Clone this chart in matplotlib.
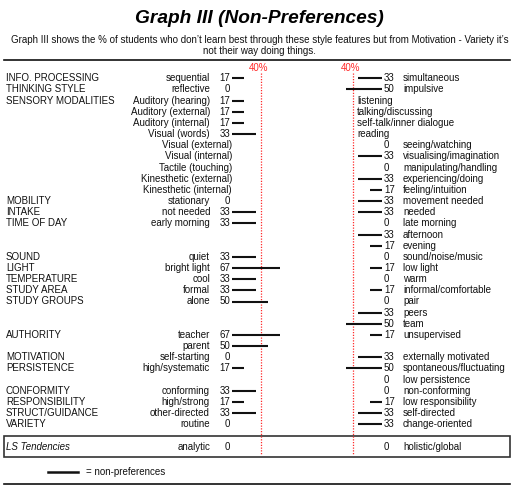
import matplotlib.pyplot as plt
from matplotlib.patches import Rectangle

plt.rcParams['font.family'] = ['Liberation Sans', 'DejaVu Sans']

# one entry per row of the chart
groups = ['INFO. PROCESSING', 'THINKING STYLE', 'SENSORY MODALITIES', '', '', '', '', '', '', '', '',
          'MOBILITY', 'INTAKE', 'TIME OF DAY', '', '', 'SOUND', 'LIGHT', 'TEMPERATURE', 'STUDY AREA',
          'STUDY GROUPS', '', '', 'AUTHORITY', '', 'MOTIVATION', 'PERSISTENCE', '', 'CONFORMITY',
          'RESPONSIBILITY', 'STRUCT/GUIDANCE', 'VARIETY']
left_labels = ['sequential', 'reflective', 'Auditory (hearing)', 'Auditory (external)', 'Auditory (internal)',
               'Visual (words)', 'Visual (external)', 'Visual (internal)', 'Tactile (touching)',
               'Kinesthetic (external)', 'Kinesthetic (internal)', 'stationary', 'not needed', 'early morning',
               '', '', 'quiet', 'bright light', 'cool', 'formal', 'alone', '', '', 'teacher', 'parent',
               'self-starting', 'high/systematic', '', 'conforming', 'high/strong', 'other-directed', 'routine']
left_values = [17, 0, 17, 17, 17, 33, None, None, None, None, None, 0, 33, 33, None, None,
               33, 67, 33, 33, 50, None, None, 67, 50, 0, 17, None, 33, 17, 33, 0]
right_labels = ['simultaneous', 'impulsive', 'listening', 'talking/discussing', 'self-talk/inner dialogue',
                'reading', 'seeing/watching', 'visualising/imagination', 'manipulating/handling',
                'experiencing/doing', 'feeling/intuition', 'movement needed', 'needed', 'late morning',
                'afternoon', 'evening', 'sound/noise/music', 'low light', 'warm', 'informal/comfortable',
                'pair', 'peers', 'team', 'unsupervised', '', 'externally motivated',
                'spontaneous/fluctuating', 'low persistence', 'non-conforming', 'low responsibility',
                'self-directed', 'change-oriented']
right_values = [33, 50, None, None, None, None, 0, 33, 0, 33, 17, 33, 33, 0, 33, 17,
                0, 17, 0, 17, 0, 33, 50, 17, None, 33, 50, 0, 0, 17, 33, 33]

ls_label = 'LS Tendencies'
ls_left, ls_left_value = 'analytic', 0
ls_right, ls_right_value = 'holistic/global', 0
threshold = 40

W, H = 519, 491
fig = plt.figure(figsize=(W / 100, H / 100), dpi=100)
ax = fig.add_axes([0, 0, 1, 1])
ax.set_xlim(0, W)
ax.set_ylim(H, 0)
ax.axis('off')

ROW0, DY = 78.3, 11.16
FS = 7
TXT = '#111111'
RED = '#ff2a2a'


def row_y(i):
    return ROW0 + DY * i


# header
ax.text(W / 2, 18.5, 'Graph III (Non-Preferences)', ha='center', va='center',
        fontsize=13.8, fontweight='bold', fontstyle='italic', color='black')
ax.text(W / 2, 45.5, "Graph III shows the % of students who don\u2019t learn best through these style features "
        "but from Motivation - Variety it\u2019s\nnot their way doing things.",
        ha='center', va='center', fontsize=7, color=TXT, linespacing=1.2)
ax.plot([4, 510], [59.5, 59.5], color='#111111', lw=1.2)

# bar panels: percent scale, left grows right, right grows left
span = 72
axl = fig.add_axes([232 / W, 0, span / W, 1])
axr = fig.add_axes([(382 - span) / W, 0, span / W, 1])
for a, lim, shift in ((axl, (0, 100), -3.7), (axr, (100, 0), 3.2)):
    a.set_xlim(*lim)
    a.set_ylim(H, 0)
    a.axis('off')
    a.patch.set_alpha(0)
    a.vlines(threshold, 73, 454, color=RED, linestyle=(0, (1, 1.2)), lw=0.9)
    a.text(threshold + shift, 68, f'{threshold}%', ha='center', va='center',
           fontsize=FS, color=RED)

for i in range(len(groups)):
    y = row_y(i)
    if groups[i]:
        ax.text(6, y, groups[i], ha='left', va='center', fontsize=FS, color=TXT)
    lv = left_values[i]
    if left_labels[i]:
        if lv is None:
            ax.text(232, y, left_labels[i], ha='right', va='center', fontsize=FS, color=TXT)
        else:
            ax.text(210, y, left_labels[i], ha='right', va='center', fontsize=FS, color=TXT)
            ax.text(230, y, str(lv), ha='right', va='center', fontsize=FS, color=TXT)
            if lv > 0:
                axl.hlines(y, 0, lv, color='#111111', lw=1.5)
    rv = right_values[i]
    if right_labels[i]:
        if rv is None:
            ax.text(357, y, right_labels[i], ha='left', va='center', fontsize=FS, color=TXT)
        else:
            ax.text(403, y, right_labels[i], ha='left', va='center', fontsize=FS, color=TXT)
            ax.text(384, y, str(rv), ha='left', va='center', fontsize=FS, color=TXT)
            if rv > 0:
                axr.hlines(y, 0, rv, color='#111111', lw=1.5)

# learning style tendencies box
y = row_y(len(groups) + 1)
ax.add_patch(Rectangle((4, 435.5), 506, 21, fill=False, edgecolor='#333333', lw=1.2))
ax.text(6, y, ls_label, ha='left', va='center', fontsize=FS, fontstyle='italic', color=TXT)
ax.text(210, y, ls_left, ha='right', va='center', fontsize=FS, color=TXT)
ax.text(230, y, str(ls_left_value), ha='right', va='center', fontsize=FS, color=TXT)
ax.text(384, y, str(ls_right_value), ha='left', va='center', fontsize=FS, color=TXT)
ax.text(403, y, ls_right, ha='left', va='center', fontsize=FS, color=TXT)

# legend and bottom rule
ax.plot([48, 78], [471.7, 471.7], color='#111111', lw=1.8)
ax.text(86, 471.7, '= non-preferences', ha='left', va='center', fontsize=FS, color=TXT)
ax.plot([4, 510], [483.5, 483.5], color='#111111', lw=1.2)

fig.savefig('out.png', dpi=100)
